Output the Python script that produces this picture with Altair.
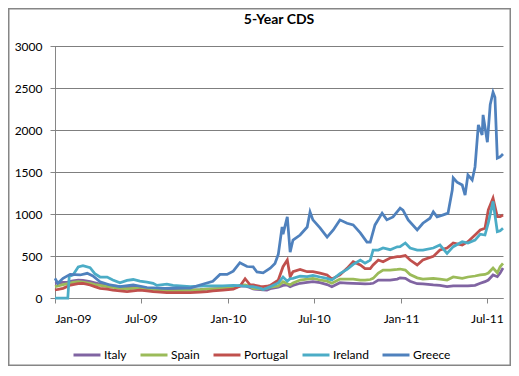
import altair as alt
import pandas as pd

# common sampling dates for Italy, Spain, Portugal, Ireland
grid_dates = [
    "2009-01-01", "2009-01-18", "2009-01-28", "2009-01-31", "2009-02-08", "2009-02-19",
    "2009-03-01", "2009-03-16", "2009-03-26", "2009-04-06", "2009-04-21", "2009-05-03",
    "2009-05-18", "2009-06-02", "2009-06-15", "2009-06-29", "2009-07-14", "2009-07-27",
    "2009-08-04", "2009-08-25", "2009-09-07", "2009-10-13", "2009-11-03", "2009-11-18",
    "2009-11-30", "2009-12-21", "2010-01-12", "2010-01-26", "2010-02-06", "2010-02-16",
    "2010-02-23", "2010-03-10", "2010-03-16", "2010-03-24", "2010-03-31", "2010-04-17",
    "2010-04-27", "2010-05-06", "2010-05-12", "2010-05-18", "2010-06-02", "2010-06-17",
    "2010-06-29", "2010-07-14", "2010-07-29", "2010-08-08", "2010-08-25", "2010-09-09",
    "2010-09-22", "2010-10-07", "2010-10-17", "2010-10-28", "2010-11-03", "2010-11-14",
    "2010-11-24", "2010-12-09", "2010-12-24", "2010-12-30", "2011-01-10", "2011-01-20",
    "2011-02-04", "2011-02-16", "2011-03-10", "2011-03-24", "2011-04-08", "2011-04-21",
    "2011-05-10", "2011-05-22", "2011-06-06", "2011-06-17", "2011-06-27", "2011-07-04",
    "2011-07-14", "2011-07-23", "2011-07-29", "2011-08-04",
]

italy = [
    175, 185, 190, 195, 205, 214, 210, 194, 180, 165, 155, 145,
    135, 130, 130, 127, 115, 107, 105, 98, 95, 95, 100, 107,
    110, 115, 120, 140, 143, 125, 107, 100, 97, 95, 110, 130,
    150, 155, 135, 150, 175, 185, 194, 182, 160, 135, 182, 178,
    175, 170, 167, 170, 175, 214, 214, 214, 225, 240, 234, 200,
    170, 167, 155, 150, 135, 143, 143, 143, 150, 175, 195, 214,
    274, 254, 297, 357,
]

spain = [
    135, 160, 170, 175, 185, 194, 190, 175, 160, 150, 135, 125,
    115, 110, 115, 115, 105, 95, 92, 85, 83, 95, 100, 107,
    110, 115, 120, 150, 155, 140, 115, 108, 107, 115, 130, 143,
    194, 170, 155, 180, 214, 225, 234, 214, 200, 175, 226, 226,
    226, 214, 214, 220, 234, 297, 333, 333, 340, 345, 333, 280,
    240, 226, 234, 225, 214, 250, 234, 250, 262, 274, 280, 297,
    357, 301, 373, 413,
]

portugal = [
    95, 115, 140, 150, 160, 170, 175, 155, 135, 115, 105, 95,
    85, 75, 85, 95, 85, 75, 72, 65, 63, 63, 70, 75,
    85, 95, 105, 140, 230, 160, 155, 140, 135, 140, 150, 214,
    373, 452, 254, 313, 340, 313, 313, 297, 274, 226, 274, 353,
    432, 393, 350, 350, 393, 452, 432, 476, 492, 492, 505, 452,
    393, 452, 495, 571, 595, 655, 631, 670, 750, 810, 830, 1048,
    1190, 968, 968, 988,
]

ireland = [
    0, 0, 0, 255, 274, 370, 385, 360, 290, 250, 250, 215,
    180, 210, 220, 200, 190, 175, 150, 165, 150, 135, 140, 145,
    145, 145, 150, 148, 140, 135, 135, 115, 100, 120, 135, 180,
    250, 200, 230, 234, 260, 255, 270, 250, 234, 214, 290, 340,
    400, 450, 415, 450, 570, 570, 595, 575, 610, 611, 655, 595,
    571, 571, 595, 631, 530, 611, 670, 655, 690, 760, 750, 893,
    1150, 790, 800, 830,
]

greece_dates = [
    "2009-01-01", "2009-01-07", "2009-01-18", "2009-02-02", "2009-02-23", "2009-03-10",
    "2009-03-22", "2009-04-06", "2009-04-27", "2009-05-18", "2009-06-15", "2009-07-14",
    "2009-08-21", "2009-09-15", "2009-10-13", "2009-11-03", "2009-11-30", "2009-12-15",
    "2009-12-30", "2010-01-12", "2010-01-26", "2010-02-10", "2010-02-23", "2010-03-03",
    "2010-03-16", "2010-03-31", "2010-04-10", "2010-04-17", "2010-04-25", "2010-04-27",
    "2010-05-06", "2010-05-12", "2010-05-18", "2010-06-02", "2010-06-17", "2010-06-23",
    "2010-06-29", "2010-07-14", "2010-07-29", "2010-08-11", "2010-08-25", "2010-09-09",
    "2010-09-22", "2010-10-07", "2010-10-21", "2010-10-28", "2010-11-07", "2010-11-22",
    "2010-12-02", "2010-12-15", "2010-12-30", "2011-01-05", "2011-01-16", "2011-02-04",
    "2011-02-16", "2011-03-03", "2011-03-10", "2011-03-18", "2011-03-31", "2011-04-10",
    "2011-04-19", "2011-04-21", "2011-04-29", "2011-05-10", "2011-05-16", "2011-05-22",
    "2011-05-31", "2011-06-06", "2011-06-13", "2011-06-21", "2011-06-23", "2011-07-02",
    "2011-07-08", "2011-07-14", "2011-07-18", "2011-07-23", "2011-07-29", "2011-08-04",
]

greece = [
    234, 175, 234, 282, 274, 294,
    262, 194, 155, 135, 155, 125,
    115, 120, 118, 155, 200, 280,
    280, 320, 420, 375, 370, 310,
    300, 355, 410, 520, 845, 760,
    965, 545, 690, 750, 845, 1025,
    930, 835, 725, 810, 930, 890,
    870, 775, 665, 665, 870, 1010,
    930, 965, 1070, 1045, 930, 810,
    890, 950, 1025, 965, 990, 1010,
    1285, 1430, 1380, 1345, 1225, 1465,
    1405, 1560, 2060, 1940, 2180, 1855,
    2300, 2450, 2390, 1665, 1680, 1715,
]

countries = ["Italy", "Spain", "Portugal", "Ireland", "Greece"]
colors = ["#8064A2", "#9BBB59", "#C0504D", "#4BACC6", "#4F81BD"]
y_ticks = [0, 500, 1000, 1500, 2000, 2500, 3000]
x_tick_dates = ["2009-01-01", "2009-07-01", "2010-01-01", "2010-07-01", "2011-01-01", "2011-07-01"]

rows = []
for name, vals in [("Italy", italy), ("Spain", spain), ("Portugal", portugal), ("Ireland", ireland)]:
    for d, v in zip(grid_dates, vals):
        rows.append({"date": d, "cds": v, "country": name})
for d, v in zip(greece_dates, greece):
    rows.append({"date": d, "cds": v, "country": "Greece"})
df = pd.DataFrame(rows)
df["date"] = pd.to_datetime(df["date"])

grid_df = pd.DataFrame({"level": y_ticks[1:]})

FONT = "Lato"
GRAY = "#868686"

x_vals = [alt.DateTime(year=int(s[:4]), month=int(s[5:7]), date=1) for s in x_tick_dates]
x_scale = alt.Scale(domain=[alt.DateTime(year=2009, month=1, date=1),
                            alt.DateTime(year=2011, month=8, date=4)])
y_scale = alt.Scale(domain=[0, 3000], nice=False)

# horizontal gridlines, drawn first so the series sit above them
gridlines = alt.Chart(grid_df).mark_rule(color="#7f7f7f", strokeWidth=1, yOffset=0.5).encode(
    y=alt.Y("level:Q", scale=y_scale),
)

lines = alt.Chart(df).mark_line(strokeWidth=2.75).encode(
    x=alt.X(
        "date:T",
        scale=x_scale,
        axis=alt.Axis(
            values=x_vals,
            format="%b-%y", title=None, grid=False,
            domainColor=GRAY, tickColor=GRAY, tickSize=5, labelPadding=10,
            labelFont=FONT, labelFontSize=12, labelColor="black",
        ),
    ),
    y=alt.Y(
        "cds:Q",
        scale=y_scale,
        axis=alt.Axis(
            values=y_ticks, format="d", title=None, grid=True,
            gridColor=GRAY, gridWidth=1,
            domainColor=GRAY, tickColor=GRAY, tickSize=5, labelPadding=8,
            labelFont=FONT, labelFontSize=12, labelColor="black",
        ),
    ),
    color=alt.Color(
        "country:N",
        scale=alt.Scale(domain=countries, range=colors),
        legend=alt.Legend(
            title=None, orient="none", legendX=17, legendY=294, direction="horizontal",
            symbolType="stroke", symbolStrokeWidth=3, symbolSize=729,
            labelFont=FONT, labelFontSize=12, labelOffset=2, columnPadding=7,
            labelColor="black",
        ),
    ),
)

border = alt.Chart(pd.DataFrame({"k": [0]})).mark_rect(
    fill="transparent", stroke=GRAY, strokeWidth=1.5
).encode(
    x=alt.value(-46.25), x2=alt.value(455.25), y=alt.value(-37.25), y2=alt.value(319.25)
)

chart = alt.layer(gridlines, lines, border).properties(
    width=448,
    height=252,
    padding={"left": 47, "top": 38, "right": 8, "bottom": 68},
    autosize=alt.AutoSizeParams(type="none"),
    title=alt.TitleParams("5-Year CDS", font=FONT, fontSize=14, fontWeight="bold",
                          anchor="middle", offset=-19, color="black"),
).configure_view(strokeWidth=0)

chart.save("out.html", embed_options={"renderer": "svg", "actions": False})
